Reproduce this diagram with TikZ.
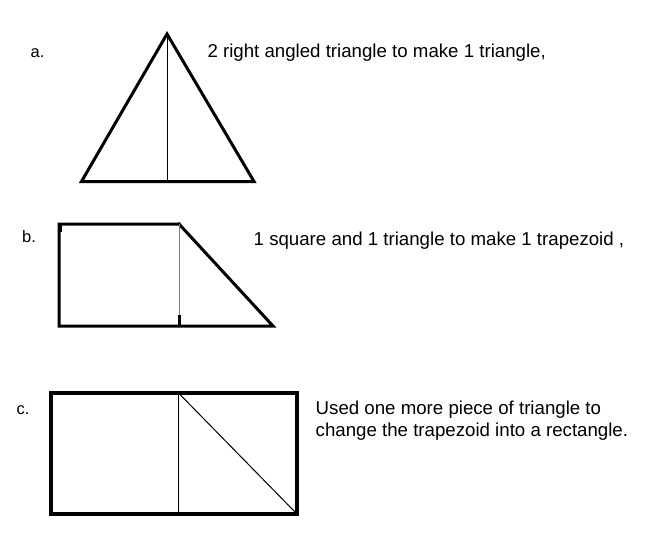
\documentclass[tikz,border=0pt]{standalone}
\usepackage{fontspec}
\setmainfont{Liberation Sans}
\begin{document}
\begin{tikzpicture}[x=1pt,y=-1pt,
  thickline/.style={line width=3pt,line join=miter,line cap=rect},
  thinline/.style={line width=1pt,black},
  grayline/.style={line width=1pt,black!50},
  caption/.style={anchor=base west,inner sep=0pt,font=\fontsize{18.67}{22.5}\selectfont,align=left},
  letter/.style={anchor=base west,inner sep=0pt,font=\fontsize{16.5}{18}\selectfont}]
\useasboundingbox[fill=white] (0,0) rectangle (651,546);
% part a
\coordinate (aTop) at (167,34);
\coordinate (aL) at (81.5,181.5);
\coordinate (aR) at (254,181.5);
\coordinate (aMid) at (167,181.5);
\draw[thickline] (aTop) -- (aL) -- (aR) -- cycle;
\draw[thinline] (aTop) -- (aMid);
\node[letter] (la) at (30.5,57.5) {a.};
\node[caption] (ta) at (207.3,57.2) {2 right angled triangle to make 1 triangle,};
% part b
\coordinate (bTL) at (59,224);
\coordinate (bTR) at (179,224);
\coordinate (bBL) at (59,326);
\coordinate (bBR) at (179,326);
\coordinate (bTip) at (273,326);
\draw[thickline] (bTR) -- (bTL) -- (bBL) -- (bTip) -- (bTR);
\draw[grayline] (bTR) -- (bBR);
\draw[line width=2.5pt] (60.5,223) -- (60.5,232);
\draw[line width=2.5pt] (179.5,315) -- (179.5,326) -- (187,326);
\node[letter] (lb) at (22,242) {b.};
\node[caption] (tb) at (253.5,245) {1 square and 1 triangle to make 1 trapezoid ,};
% part c
\coordinate (cTL) at (51,393);
\coordinate (cBR) at (297,514);
\coordinate (cTM) at (178.5,393);
\coordinate (cBM) at (178.5,514);
\draw[thickline,line width=3.3pt] (cTL) rectangle (cBR);
\draw[thinline] (cTM) -- (cBM);
\draw[thinline] (cTM) -- (cBR);
\node[letter] (lc) at (16.5,414.5) {c.};
\node[caption] (tc) at (315.5,436.5) {Used one more piece of triangle to\\change the trapezoid into a rectangle.};
\end{tikzpicture}
\end{document}
